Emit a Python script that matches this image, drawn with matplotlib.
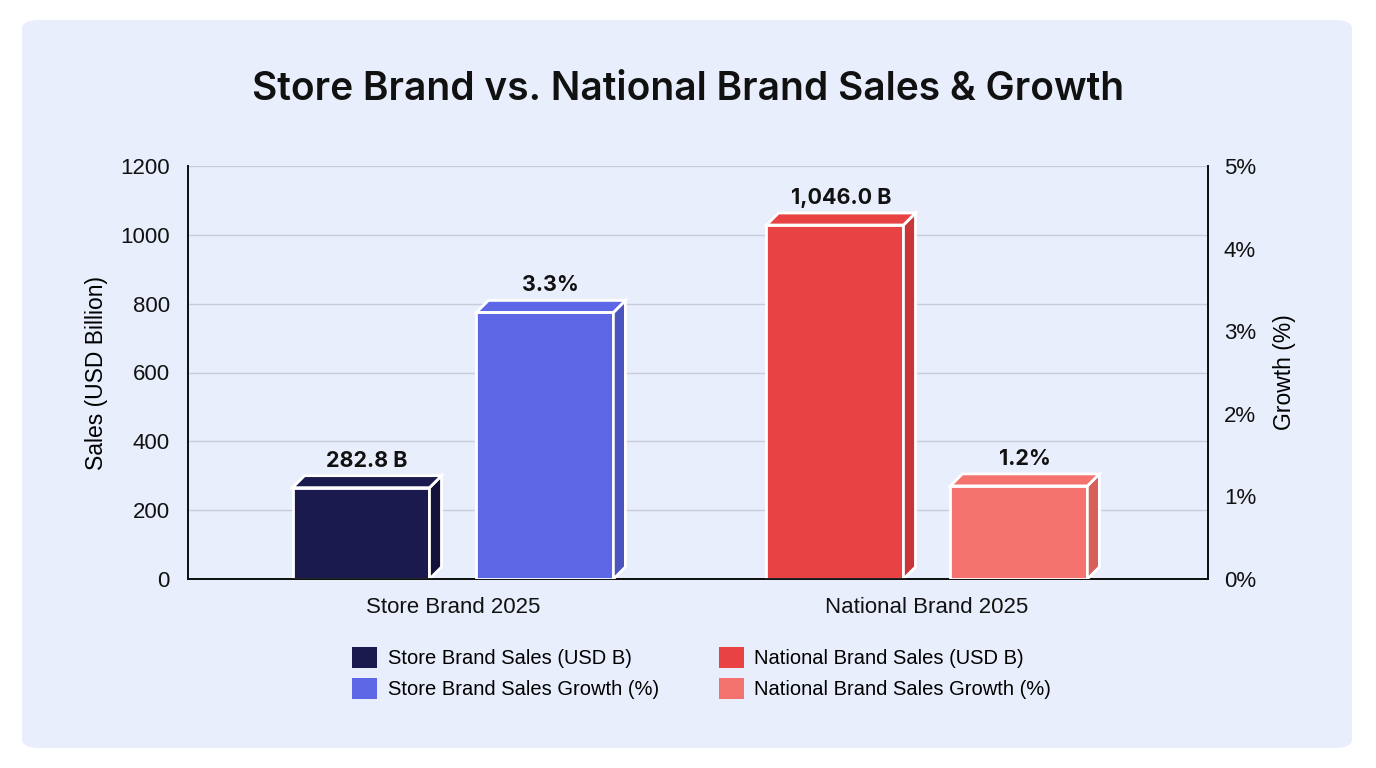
import numpy as np
import matplotlib
matplotlib.use("Agg")
import matplotlib.pyplot as plt
from matplotlib.patches import Polygon, FancyBboxPatch, Patch

# datos
categories = ["Store Brand 2025", "National Brand 2025"]
sales = [282.8, 1046.0]          # USD B
growth = [3.3, 1.2]              # %
sales_labels = ["282.8 B", "1,046.0 B"]
growth_labels = ["3.3%", "1.2%"]
legend_names = ["Store Brand Sales (USD B)", "Store Brand Sales Growth (%)",
                "National Brand Sales (USD B)", "National Brand Sales Growth (%)"]

sales_colors = ["#1a1a4e", "#e84245"]
sales_sides = ["#12123a", "#c9363a"]
growth_colors = ["#5d67e6", "#f4736f"]
growth_sides = ["#4c55bd", "#d95f5b"]

W, H = 1376, 768
fig = plt.figure(figsize=(W / 100, H / 100), dpi=100)
fig.patch.set_facecolor("white")

# panel de fondo redondeado
panel = FancyBboxPatch((22 / W, 20 / H), 1330 / W, 728 / H,
                       boxstyle="round,pad=0,rounding_size=0.012",
                       transform=fig.transFigure, facecolor="#e8eefb",
                       edgecolor="none", zorder=-10)
fig.patches.append(panel)

left, right, bottom, top = 188 / W, 1208 / W, 1 - 579 / H, 1 - 166 / H
ax = fig.add_axes([left, bottom, right - left, top - bottom])
ax2 = ax.twinx()
ax.set_facecolor("none")
ax2.set_facecolor("none")

xlim = (-0.559, 1.593)
ax.set_xlim(*xlim)
ax.set_ylim(0, 1200)
ax2.set_ylim(0, 5)

x = np.arange(len(categories))
bw = 0.289
off = 0.194
depth = 12  # px

ax_w_px = (right - left) * W
ax_h_px = (top - bottom) * H
dx = depth * (xlim[1] - xlim[0]) / ax_w_px


def bar3d(axis, xc, val, ymax, face, side, zorder):
    dy = depth * ymax / ax_h_px
    x0, x1 = xc - bw / 2, xc + bw / 2
    top_y = val - dy / 2
    axis.bar(xc, top_y, width=bw, color=face, edgecolor="white",
             linewidth=2, zorder=zorder)
    side_poly = Polygon([(x1, 0), (x1 + dx, dy), (x1 + dx, top_y + dy), (x1, top_y)],
                        closed=True, facecolor=side, edgecolor="white",
                        linewidth=2, zorder=zorder)
    top_poly = Polygon([(x0, top_y), (x1, top_y), (x1 + dx, top_y + dy), (x0 + dx, top_y + dy)],
                       closed=True, facecolor=face, edgecolor="white",
                       linewidth=2, zorder=zorder)
    axis.add_patch(side_poly)
    axis.add_patch(top_poly)
    return top_y + dy


for i in range(len(categories)):
    t = bar3d(ax, x[i] - off, sales[i], 1200, sales_colors[i], sales_sides[i], 3)
    ax.text(x[i] - off + dx / 2, t + 14, sales_labels[i], ha="center", va="bottom",
            fontsize=15.5, fontweight="bold", family="Inter", color="#111111")
    t = bar3d(ax2, x[i] + off, growth[i], 5, growth_colors[i], growth_sides[i], 3)
    ax2.text(x[i] + off + dx / 2, t + 0.06, growth_labels[i], ha="center", va="bottom",
             fontsize=15.5, fontweight="bold", family="Inter", color="#111111")

# rejilla
ax.set_axisbelow(True)
ax.yaxis.grid(True, color="#c8ccd8", linewidth=1)
ax.xaxis.grid(False)

for a in (ax, ax2):
    a.spines["top"].set_visible(False)
    a.tick_params(length=0, labelsize=16)
    for s in ("left", "right", "bottom"):
        a.spines[s].set_color("#111111")
        a.spines[s].set_linewidth(1.3)

ax.set_yticks(np.arange(0, 1201, 200))
ax2.set_yticks(np.arange(0, 6, 1))
ax2.set_yticklabels([f"{v}%" for v in range(6)])
ax.set_xticks(x)
ax.set_xticklabels(categories)
ax.tick_params(axis="x", pad=13)
ax.tick_params(axis="y", pad=13)
ax2.tick_params(axis="y", pad=11.5)
for lab in ax.get_xticklabels() + ax.get_yticklabels() + ax2.get_yticklabels():
    lab.set_family("Liberation Sans")
    lab.set_color("#111111")

ax.set_ylabel("Sales (USD Billion)", fontsize=16.5, family="Liberation Sans", labelpad=9)
ax2.set_ylabel("Growth (%)", fontsize=16.5, family="Liberation Sans", labelpad=12)

fig.text(0.5, 1 - 90 / H, "Store Brand vs. National Brand Sales & Growth",
         ha="center", va="center", fontsize=28, fontweight="semibold",
         family="Inter", color="#111111")

handles = [Patch(facecolor=c, edgecolor="none") for c in
           [sales_colors[0], growth_colors[0], sales_colors[1], growth_colors[1]]]
fig.legend(handles, legend_names, ncol=2, loc="center", bbox_to_anchor=(0.510, 1 - 673 / H),
           frameon=False, prop={"family": "Liberation Sans", "size": 14.5},
           handlelength=1.25, handleheight=1.25, handletextpad=0.5, columnspacing=3.0,
           labelspacing=0.5)

fig.savefig("out.png", dpi=100)
